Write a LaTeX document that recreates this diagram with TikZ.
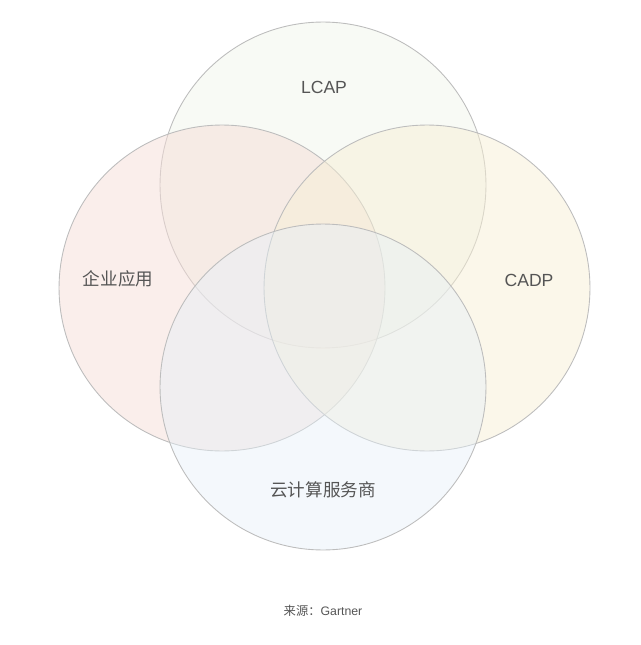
\documentclass[tikz,border=0pt]{standalone}
\usepackage{fontspec}
\setmainfont{Liberation Sans}
\newfontfamily\cjk{Noto Sans CJK SC}
\usepackage{xcolor}
\usepackage{tikz}

\definecolor{lcapfill}{HTML}{F1F5EB}
\definecolor{appfill}{HTML}{F5DDD7}
\definecolor{cadpfill}{HTML}{F7EFD5}
\definecolor{cloudfill}{HTML}{E6F0F8}
\definecolor{ringline}{HTML}{BDBDBD}
\definecolor{labeltext}{HTML}{555555}

\begin{document}
\begin{tikzpicture}[x=0.02cm,y=-0.02cm,
		set/.style={circle,draw=ringline,line width=0.5pt,fill opacity=0.5,minimum size=6.52cm,inner sep=0pt,outer sep=0pt},
		tag/.style={text=labeltext,font=\fontsize{10}{12}\selectfont}]
			\useasboundingbox (0,0) rectangle (640,645);
			% the four sets
			\node[set,fill=lcapfill] (lcap) at (323,185) {};
			\node[set,fill=appfill] (app) at (222,288) {};
			\node[set,fill=cadpfill] (cadp) at (427,288) {};
			\node[set,fill=cloudfill,fill opacity=0.45] (cloud) at (323,387) {};
			% labels
			\node[tag] (lcaptag) at (324,87) {LCAP};
			\node[tag] (apptag) at (118,279) {\cjk 企业应用};
			\node[tag] (cadptag) at (529,280) {CADP};
			\node[tag] (cloudtag) at (323,490) {\cjk 云计算服务商};
			\node[text=labeltext,font=\fontsize{7}{8}\selectfont] (source) at (323,611) {\cjk 来源：\rmfamily Gartner};
\end{tikzpicture}
\end{document}
